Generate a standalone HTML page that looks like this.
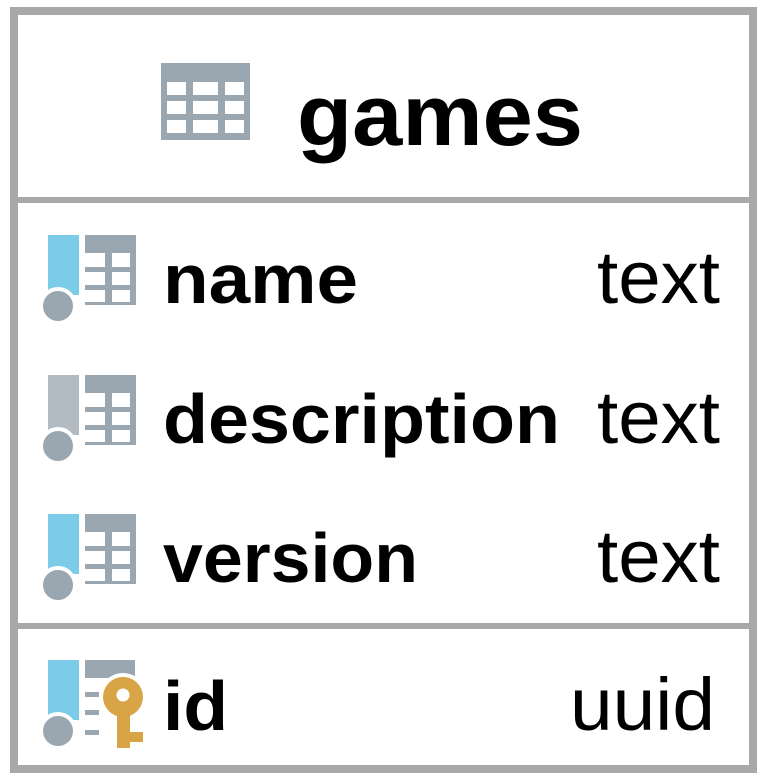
<!DOCTYPE html>
<html><head><style>
html,body{margin:0;padding:0;background:#fff;}
svg{display:block;}
text{font-family:"Liberation Sans",sans-serif;fill:#000;}
</style></head><body>
<svg width="767" height="781" viewBox="0 0 767 781" xmlns="http://www.w3.org/2000/svg">
<rect x="0" y="0" width="767" height="781" fill="#fff"/>
<rect x="14" y="11" width="739" height="758" fill="#fff" stroke="#a8a8a8" stroke-width="8"/>
<rect x="14" y="197" width="739" height="6" fill="#a8a8a8"/>
<rect x="14" y="623" width="739" height="6" fill="#a8a8a8"/>

<!-- header icon -->
<rect x="161" y="63" width="89" height="77" fill="#9aa6b0"/>
<g fill="#fff">
<rect x="167" y="82" width="19" height="13"/><rect x="193" y="82" width="25" height="13"/><rect x="225" y="82" width="19" height="13"/>
<rect x="167" y="101" width="19" height="13"/><rect x="193" y="101" width="25" height="13"/><rect x="225" y="101" width="19" height="13"/>
<rect x="167" y="120" width="19" height="13"/><rect x="193" y="120" width="25" height="13"/><rect x="225" y="120" width="19" height="13"/>
</g>
<text x="297" y="145" font-size="86" font-weight="bold" textLength="286" lengthAdjust="spacingAndGlyphs">games</text>

<defs>
<g id="grid">
<rect x="85" y="0" width="51" height="70" fill="#9aa6b0"/>
<g fill="#fff">
<rect x="85" y="18" width="20" height="14"/><rect x="112" y="18" width="18" height="14"/>
<rect x="85" y="37" width="20" height="13"/><rect x="112" y="37" width="18" height="13"/>
<rect x="85" y="55" width="20" height="12"/><rect x="112" y="55" width="18" height="12"/>
</g>
</g>
</defs>

<!-- name -->
<g transform="translate(0,235)">
<use href="#grid"/>
<rect x="48" y="0" width="31" height="60" fill="#7ccbe8"/>
<circle cx="58" cy="71" r="17" fill="#9aa6b0" stroke="#fff" stroke-width="4"/>
</g>
<text x="163" y="303" font-size="70" font-weight="bold" textLength="195" lengthAdjust="spacingAndGlyphs">name</text>
<text x="597" y="303" font-size="74" textLength="123" lengthAdjust="spacingAndGlyphs">text</text>

<!-- description -->
<g transform="translate(0,375)">
<use href="#grid"/>
<rect x="48" y="0" width="31" height="60" fill="#b2bbc2"/>
<circle cx="58" cy="71" r="17" fill="#9aa6b0" stroke="#fff" stroke-width="4"/>
</g>
<text x="163" y="443" font-size="70" font-weight="bold" textLength="397" lengthAdjust="spacingAndGlyphs">description</text>
<text x="597" y="443" font-size="74" textLength="123" lengthAdjust="spacingAndGlyphs">text</text>

<!-- version -->
<g transform="translate(0,514)">
<use href="#grid"/>
<rect x="48" y="0" width="31" height="60" fill="#7ccbe8"/>
<circle cx="58" cy="71" r="17" fill="#9aa6b0" stroke="#fff" stroke-width="4"/>
</g>
<text x="163" y="582" font-size="70" font-weight="bold" textLength="255" lengthAdjust="spacingAndGlyphs">version</text>
<text x="597" y="582" font-size="74" textLength="123" lengthAdjust="spacingAndGlyphs">text</text>

<!-- id -->
<rect x="85" y="660" width="50" height="18" fill="#9aa6b0"/>
<rect x="85" y="692" width="14" height="5" fill="#9aa6b0"/>
<rect x="85" y="710" width="14" height="5" fill="#9aa6b0"/>
<rect x="85" y="730" width="14" height="5" fill="#9aa6b0"/>
<rect x="48" y="660" width="31" height="60" fill="#7ccbe8"/>
<circle cx="58" cy="731" r="17" fill="#9aa6b0" stroke="#fff" stroke-width="4"/>
<circle cx="123" cy="697" r="24" fill="#fff"/>
<rect x="113" y="700" width="34" height="52" fill="#fff"/>
<circle cx="123" cy="697" r="20" fill="#d8a445"/>
<circle cx="123" cy="695" r="6.5" fill="#fff"/>
<rect x="117" y="712" width="13" height="36" fill="#d8a445"/>
<rect x="129" y="732" width="14" height="10" fill="#d8a445"/>
<text x="163" y="730" font-size="70" font-weight="bold" textLength="65" lengthAdjust="spacingAndGlyphs">id</text>
<text x="570" y="730" font-size="74" textLength="145" lengthAdjust="spacingAndGlyphs">uuid</text>
</svg>
</body></html>
